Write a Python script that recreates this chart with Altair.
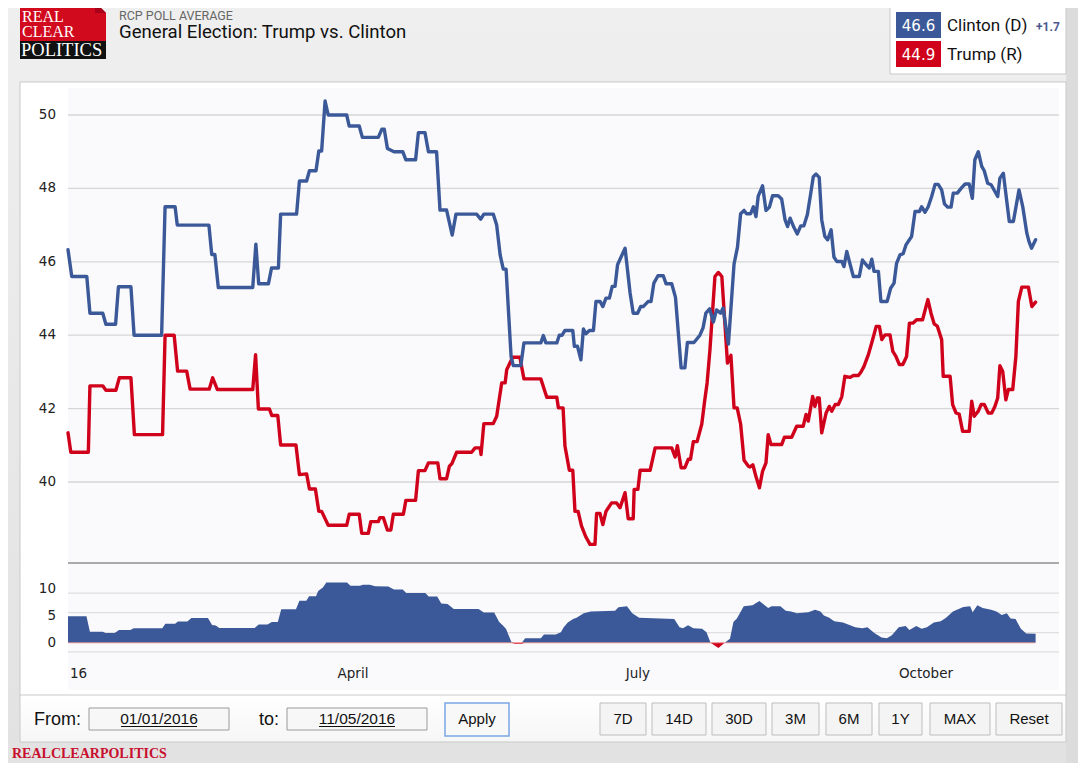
import altair as alt
import pandas as pd

# ---------------- data (day = days since 2016-01-01) ----------------
clinton = [
    (0, 46.33), (1.2, 45.6), (6, 45.6), (7, 44.6), (11.1, 44.6), (12.1, 44.3), (15.2, 44.3),
    (16.1, 45.32), (20.1, 45.32), (21.1, 44.0), (29.9, 44.0), (31, 47.5), (34.2, 47.5),
    (34.9, 47.0), (45, 47.0), (45.9, 46.2), (46.9, 46.2), (48, 45.3), (59, 45.3), (60, 46.48),
    (60.9, 45.4), (64, 45.4), (65, 45.83), (67.2, 45.83), (67.9, 47.3), (73, 47.3), (73.9, 48.2),
    (76.2, 48.2), (77.1, 48.48), (79.2, 48.48), (80.1, 49.02), (81, 49.02), (82.1, 50.38),
    (83.1, 50.0), (89, 50.0), (89.8, 49.7), (93, 49.7), (94, 49.39), (99.1, 49.39), (100.2, 49.61),
    (101, 49.61), (102, 49.09), (104.1, 49.0), (106.9, 49.0), (107.9, 48.78), (111, 48.78),
    (111.9, 49.52), (114, 49.52), (115.1, 49.0), (117.7, 49.0), (118.8, 47.41), (120.9, 47.41),
    (122.7, 46.73), (123.9, 47.3), (130.5, 47.3), (131.8, 47.16), (132.8, 47.3), (135.8, 47.3),
    (136.9, 47.0), (138, 46.19), (139, 45.8), (139.9, 45.8), (141.5, 43.42), (142.2, 43.17),
    (144.6, 43.17), (145.6, 43.79), (151, 43.79), (151.8, 43.99), (152.6, 43.79), (156.1, 43.79),
    (156.9, 44.0), (157.8, 44.0), (158.7, 44.13), (161.2, 44.13), (161.7, 43.7), (162.7, 43.7),
    (163.8, 43.33), (164.6, 44.17), (165.4, 44.04), (166.5, 44.13), (167.8, 44.13), (168.6, 44.92),
    (169.9, 44.92), (170.8, 44.78), (171.8, 45.01), (172.9, 45.01), (173.8, 45.33), (174.7, 45.33),
    (175.5, 45.92), (177.9, 46.37), (179.5, 45.15), (180.5, 44.6), (181.9, 44.6), (182.9, 44.78),
    (183.7, 44.78), (185.3, 44.92), (186.2, 44.92), (187.1, 45.42), (188.4, 45.62), (190.1, 45.62),
    (191, 45.4), (192.8, 45.4), (194, 45.03), (195.8, 43.11), (197, 43.11), (197.8, 43.8),
    (199.9, 43.8), (201.8, 44.0), (202.8, 44.2), (203.7, 44.6), (204.9, 44.72), (206.1, 44.36),
    (207.1, 44.69), (208.4, 44.6), (209.2, 44.74), (210.9, 43.76), (211.9, 44.97), (212.7, 45.94),
    (213.8, 46.4), (214.8, 47.31), (215.9, 47.4), (216.7, 47.31), (218, 47.31), (218.9, 47.5),
    (219.7, 47.23), (220.4, 47.78), (221.8, 48.07), (222.9, 47.4), (224, 47.49), (225, 47.8),
    (226.8, 47.8), (227.9, 47.71), (229, 47.14), (229.8, 46.96), (230.6, 47.19), (231.8, 46.94),
    (232.9, 46.76), (234, 46.98), (235, 46.98), (236.1, 47.28), (237.2, 47.87), (238, 48.32),
    (238.9, 48.39), (239.9, 48.3), (240.7, 47.14), (241.7, 46.69), (242.6, 46.6), (243.7, 46.87),
    (244.6, 46.13), (245.5, 46.01), (247.1, 46.01), (247.8, 45.87), (248.7, 46.28), (249.8, 45.92),
    (250.8, 45.6), (252.7, 45.6), (253.7, 46.05), (254.9, 45.92), (255.9, 45.83), (256.7, 46.07),
    (257.4, 45.74), (258.8, 45.74), (259.6, 44.92), (261.6, 44.92), (262.7, 45.28), (263.8, 45.42),
    (264.6, 45.96), (265.7, 46.19), (266.7, 46.22), (267.6, 46.46), (269.4, 46.69), (270.5, 47.37),
    (271.9, 47.37), (272.6, 47.5), (273.7, 47.35), (274.7, 47.5), (275.8, 47.78), (276.9, 48.11),
    (277.9, 48.11), (279, 47.96), (279.9, 47.58), (280.9, 47.49), (282, 47.49), (282.7, 47.87),
    (284, 47.87), (285.4, 48.02), (286.5, 48.12), (287.8, 48.12), (288.8, 47.73), (289.6, 48.78),
    (290.7, 49.0), (291.8, 48.6), (292.6, 48.48), (293.7, 48.14), (294.8, 48.1), (296.9, 47.78),
    (297.6, 48.28), (298.7, 48.41), (300.6, 47.1), (301.9, 47.1), (303.7, 47.96), (304.9, 47.5),
    (306.2, 46.78), (306.9, 46.55), (307.7, 46.37), (309, 46.6),
]

trump = [
    (0, 41.34), (0.9, 40.81), (6.5, 40.81), (7, 42.62), (11.1, 42.62), (12.1, 42.5), (15.3, 42.5),
    (16.4, 42.84), (20.1, 42.84), (21.2, 41.29), (30.2, 41.29), (31, 44.0), (33.9, 44.0),
    (35, 43.02), (37.9, 43.02), (39, 42.53), (45.1, 42.53), (46.2, 42.84), (47.7, 42.52),
    (59, 42.52), (59.9, 43.47), (60.8, 41.99), (64.3, 41.99), (65.1, 41.81), (67, 41.81),
    (67.9, 41.01), (72.8, 41.01), (73.9, 40.2), (76.2, 40.22), (77.1, 39.81), (79, 39.81),
    (80.1, 39.2), (81, 39.2), (83.1, 38.82), (89, 38.82), (89.8, 39.12), (93, 39.12), (93.8, 38.6),
    (95.9, 38.6), (96.7, 38.92), (99.1, 38.92), (99.6, 39.03), (100.7, 39.03), (102, 38.69),
    (103.1, 38.69), (103.9, 39.12), (107.1, 39.12), (107.9, 39.5), (111, 39.5), (111.9, 40.31),
    (114, 40.31), (115.1, 40.52), (118.1, 40.52), (118.8, 40.09), (120.9, 40.09), (121.8, 40.43),
    (122.6, 40.5), (124.1, 40.81), (128.9, 40.81), (130, 40.93), (131.6, 40.93), (131.9, 40.75),
    (132.8, 41.59), (135.8, 41.59), (136.9, 41.79), (138.5, 42.7), (139.6, 42.7), (140.1, 43.06),
    (142, 43.4), (144.3, 43.4), (145.6, 42.81), (151, 42.81), (152.9, 42.31), (156.1, 42.31),
    (156.6, 42.02), (158.1, 42.02), (158.7, 40.98), (160.1, 40.32), (161.2, 40.32), (161.9, 39.2),
    (162.9, 39.2), (164, 38.8), (165.4, 38.5), (166.7, 38.3), (168.3, 38.3), (168.8, 39.14),
    (169.9, 39.14), (170.8, 38.84), (171.8, 39.2), (173.6, 39.43), (175.2, 39.43), (176.3, 39.3),
    (177.9, 39.71), (178.9, 39.0), (180.5, 39.0), (180.8, 39.8), (182, 39.8), (182.7, 40.32),
    (185.9, 40.32), (187.5, 40.93), (192.8, 40.93), (193.9, 40.68), (194.6, 40.99), (195.8, 40.39),
    (197, 40.39), (198.1, 40.62), (198.8, 40.62), (199.7, 41.1), (200.9, 41.1), (202.4, 41.58),
    (203.3, 42.2), (204.1, 42.7), (205, 43.6), (206.6, 45.6), (207.7, 45.71), (208.8, 45.6),
    (210.6, 43.24), (211.7, 43.45), (212.7, 42.02), (213.7, 42.02), (214.8, 41.58), (215.9, 40.59),
    (217.3, 40.43), (217.8, 40.41), (218.7, 40.47), (219.7, 40.15), (220.8, 39.84), (221.8, 40.29),
    (222.9, 40.52), (223.6, 41.29), (224.5, 41.02), (227.9, 41.02), (228.8, 41.22), (231.1, 41.22),
    (232.7, 41.52), (234.8, 41.52), (235.7, 41.84), (236.4, 41.66), (237.8, 42.33), (238.5, 42.06),
    (239.3, 42.29), (239.9, 42.29), (240.7, 41.34), (242.1, 41.88), (243.1, 42.06), (243.9, 41.93),
    (245, 42.11), (246, 42.11), (247.1, 42.32), (248.1, 42.88), (249.8, 42.85), (250.8, 42.9),
    (252.4, 42.9), (253.2, 42.99), (254.2, 43.15), (255.6, 43.47), (256.7, 43.8), (258.1, 44.24),
    (259.1, 44.24), (259.9, 43.88), (260.9, 44.01), (262.5, 44.01), (263.4, 43.56), (264.4, 43.42),
    (265.5, 43.2), (266.6, 43.2), (267.8, 43.42), (268.7, 44.33), (269.9, 44.33), (271, 44.42),
    (272.9, 44.42), (274.6, 44.97), (275.6, 44.6), (276.6, 44.31), (277.6, 44.25), (279, 43.88),
    (279.5, 42.88), (281.7, 42.88), (282.5, 42.11), (283.6, 41.88), (284.6, 41.85), (285.7, 41.38),
    (287.8, 41.38), (288.6, 42.2), (289.4, 41.79), (290.7, 41.93), (291.6, 42.11), (292.6, 42.11),
    (293.9, 41.88), (295, 41.88), (296, 42.06), (296.9, 42.29), (297.6, 43.17), (298.5, 43.01),
    (299.5, 42.24), (300.3, 42.52), (301.7, 42.52), (302.7, 43.42), (303.5, 44.92), (304.6, 45.31),
    (306.7, 45.31), (307.8, 44.78), (309, 44.9),
]

spread = [
    (0, 4.97), (5.9, 4.97), (7, 2.06), (11.1, 2.06), (12, 1.81), (14.9, 1.81), (16.3, 2.39),
    (19.9, 2.39), (21, 2.71), (30.1, 2.71), (31.1, 3.55), (34.2, 3.55), (35.1, 4.0), (38.1, 4.0),
    (39.4, 4.65), (44.7, 4.65), (46, 3.35), (47.2, 3.23), (48.3, 2.77), (59.6, 2.77), (60.9, 3.42),
    (63.7, 3.42), (65.1, 3.87), (67, 3.87), (68.1, 6.26), (72.8, 6.26), (73.9, 7.87), (76.1, 7.87),
    (77, 8.71), (79.2, 8.71), (79.9, 9.68), (81.4, 10.32), (82.5, 11.29), (89.1, 11.29),
    (90.2, 10.65), (93.2, 10.65), (94.2, 10.84), (96.4, 10.84), (98.1, 10.58), (102.3, 10.52),
    (104.1, 9.94), (106.9, 9.94), (108, 9.29), (114.1, 9.29), (115.2, 8.65), (117.9, 8.65),
    (119.2, 7.35), (121.2, 7.23), (123.2, 6.32), (131.1, 6.32), (132.8, 5.68), (136.1, 5.68),
    (137.7, 3.87), (138.9, 3.23), (139.9, 2.58), (141.6, 0.13), (142.7, -0.19), (144.9, -0.19),
    (146, 0.84), (151, 0.84), (152, 1.55), (155.7, 1.56), (157.4, 1.95), (158.3, 2.93),
    (159.6, 3.78), (161.3, 4.43), (162.4, 4.69), (164.7, 5.54), (166.9, 5.86), (174.7, 5.99),
    (175.8, 6.65), (178.5, 6.84), (180.2, 5.54), (182.4, 4.69), (193.6, 4.43), (195.3, 2.93),
    (196.4, 2.74), (198, 3.26), (199.7, 2.74), (202.5, 2.61), (203.9, 1.95), (205.2, 0),
    (207.7, -0.98), (209.7, 0), (211.4, 0.78), (212.5, 3.91), (213.6, 4.56), (215.8, 6.84),
    (218.6, 7.04), (220.8, 7.82), (221.9, 7.3), (223.6, 6.51), (224.7, 6.84), (227.5, 6.84),
    (229.2, 5.99), (230.9, 5.86), (232.8, 5.54), (236.4, 5.73), (238.6, 6.19), (240.3, 5.86),
    (241.4, 5.08), (243.1, 4.69), (244.7, 4.04), (247.5, 3.78), (251.4, 2.93), (253.7, 2.74),
    (255.3, 2.93), (257.5, 1.82), (259.8, 0.98), (261.5, 0.85), (263.1, 1.43), (265.3, 2.93),
    (267.5, 3.13), (268.7, 2.41), (270.9, 3.13), (272.6, 2.61), (274.3, 2.93), (276.5, 3.78),
    (278.7, 4.04), (280.4, 4.69), (282.6, 5.86), (285.9, 6.71), (288.1, 6.84), (288.9, 5.73),
    (290.4, 7.04), (292.1, 6.51), (294.8, 6.19), (296.5, 5.86), (298.2, 5.21), (299.8, 5.54),
    (301, 4.56), (302.6, 4.43), (304.3, 2.61), (306, 1.76), (309, 1.69),
]

main_ticks = [40, 42, 44, 46, 48, 50]
spread_ticks = [10, 5, 0]
spread_grid = [9.3, 5.65, 1.9, -1.7]
month_days = [91, 182, 274]
month_labels = ["April", "July", "October"]
year_days = [0]
year_labels = ["16"]
candidates = ["Clinton (D)", "Trump (R)"]
latest = [46.6, 44.9]
lead = "+1.7"
range_buttons = ["7D", "14D", "30D", "3M", "6M", "1Y", "MAX", "Reset"]
date_from = "01/01/2016"
date_to = "11/05/2016"

# ---------------- styling / layout ----------------
BLUE = "#3b5998"
RED = "#d0021b"
M = 8  # page margin of the HTML body


def P(v):
    return v - M


X = alt.Scale(domain=[0, 274], range=[P(68), P(926)], nice=False, zero=False)
YM = alt.Scale(domain=[40, 50], range=[P(482), P(115)], nice=False, zero=False)
YS = alt.Scale(domain=[0, 10], range=[P(642.8), P(589.3)], nice=False, zero=False)

one = pd.DataFrame({"k": [0]})


def box(x1, y1, x2, y2, **kw):
    return alt.Chart(one).mark_rect(**kw).encode(
        x=alt.value(P(x1)), x2=alt.value(P(x2)), y=alt.value(P(y1)), y2=alt.value(P(y2)))


def label(s, x, y, **kw):
    return alt.Chart(one).mark_text(text=s, **kw).encode(x=alt.value(P(x)), y=alt.value(P(y)))


def hline(x1, x2, y, **kw):
    return alt.Chart(one).mark_rule(**kw).encode(
        x=alt.value(P(x1)), x2=alt.value(P(x2)), y=alt.value(P(y)))


def tri(cx, cy, path, size, color):
    return alt.Chart(one).mark_point(shape=path, size=size, filled=True, color=color,
                                     opacity=1, strokeWidth=0).encode(
        x=alt.value(P(cx)), y=alt.value(P(cy)))


layers = []

# page frame background
grad = alt.LinearGradient(gradient="linear", x1=0, x2=0, y1=0, y2=1,
                          stops=[alt.GradientStop(color="#efefef", offset=0),
                                 alt.GradientStop(color="#e2e2e2", offset=1)])
layers.append(box(8, 8, 1078, 763, color=grad))
layers.append(box(1066, 8, 1078, 763, color="#dcdcdc"))

# chart panel
layers.append(box(20, 82, 1066, 696, color="white", stroke="#c9c9c9", strokeWidth=1))
layers.append(box(68, 88, 1059, 690, color="#fafafd"))

# main grid
layers.append(alt.Chart(pd.DataFrame({"v": main_ticks})).mark_rule(
    color="#d6d6d6", strokeWidth=1.3).encode(
    y=alt.Y("v:Q", scale=YM, axis=None), x=alt.value(P(68)), x2=alt.value(P(1059))))

# spread grid
layers.append(alt.Chart(pd.DataFrame({"v": spread_grid})).mark_rule(
    color="#dedede", strokeWidth=1.3).encode(
    y=alt.Y("v:Q", scale=YS, axis=None), x=alt.value(P(68)), x2=alt.value(P(1059))))

# spread areas
sdf = pd.DataFrame(spread, columns=["day", "value"])
layers.append(alt.Chart(sdf).transform_calculate(pos="max(datum.value, 0)").mark_area(
    color=BLUE, opacity=1).encode(
    x=alt.X("day:Q", scale=X, axis=None),
    y=alt.Y("pos:Q", scale=YS, axis=None), y2=alt.datum(0)))
layers.append(alt.Chart(sdf).transform_calculate(neg="min(datum.value, 0)").mark_area(
    color=RED, opacity=1).encode(
    x=alt.X("day:Q", scale=X, axis=None),
    y=alt.Y("neg:Q", scale=YS, axis=None), y2=alt.datum(0)))
layers.append(alt.Chart(pd.DataFrame({"v": [0]})).mark_rule(
    color="#f08a8a", strokeWidth=1, opacity=0.8).encode(
    y=alt.Y("v:Q", scale=YS, axis=None), x=alt.value(P(68)), x2=alt.value(P(1035))))

# separator between main plot and spread panel
layers.append(hline(68, 1059, 563, color="#5a5a5a", strokeWidth=1.2))

# series lines
cdf = pd.DataFrame(clinton, columns=["day", "value"])
tdf = pd.DataFrame(trump, columns=["day", "value"])
for df, col in ((tdf, RED), (cdf, BLUE)):
    layers.append(alt.Chart(df).mark_line(
        color=col, strokeWidth=3.4, strokeJoin="round", strokeCap="round").encode(
        x=alt.X("day:Q", scale=X, axis=None),
        y=alt.Y("value:Q", scale=YM, axis=None)))

# y labels
lab_style = dict(font="DejaVu Sans", fontSize=13.5, color="#222222")
layers.append(alt.Chart(pd.DataFrame({"v": main_ticks})).mark_text(
    align="right", baseline="middle", **lab_style).encode(
    y=alt.Y("v:Q", scale=YM, axis=None), x=alt.value(P(56)), text="v:Q"))
layers.append(alt.Chart(pd.DataFrame({"v": spread_ticks})).mark_text(
    align="right", baseline="middle", **lab_style).encode(
    y=alt.Y("v:Q", scale=YS, axis=None), x=alt.value(P(56)), text="v:Q"))

# x labels
layers.append(alt.Chart(pd.DataFrame({"d": month_days, "t": month_labels})).mark_text(
    align="center", baseline="alphabetic", **lab_style).encode(
    x=alt.X("d:Q", scale=X, axis=None), y=alt.value(P(678)), text="t:N"))
layers.append(alt.Chart(pd.DataFrame({"d": year_days, "t": year_labels})).mark_text(
    align="left", baseline="alphabetic", dx=2, **lab_style).encode(
    x=alt.X("d:Q", scale=X, axis=None), y=alt.value(P(678)), text="t:N"))

# ---------------- header ----------------
layers.append(box(20, 2, 106, 41, color="#d20a1e"))
layers.append(box(20, 41, 106, 59, color="#111111"))
layers.append(tri(100.5, 7.5, "M-1,-1L1,-1L1,1Z", 121, "#eeeeee"))
layers.append(tri(100.5, 7.5, "M-1,-1L-1,1L1,1Z", 121, "#a8001a"))
logo = dict(font="Liberation Serif", color="white", align="left", baseline="alphabetic")
layers.append(label(["REAL", "CLEAR"], 22, 21.5, fontSize=16, lineHeight=15.5, **logo))
layers.append(label("POLITICS", 21, 56, fontSize=18.5, **logo))

layers.append(label("RCP POLL AVERAGE", 119, 20, font="Roboto", fontSize=12.5, color="#666666",
                    align="left", baseline="alphabetic"))
layers.append(label("General Election: Trump vs. Clinton", 119, 38, font="Roboto",
                    fontSize=18.6, color="#111111", align="left", baseline="alphabetic"))

# legend box
layers.append(box(890, 6, 1066, 74, color="white", stroke="#c9c9c9", strokeWidth=1))
badge_y = [(12, 38), (41, 67)]
for (y1, y2), col, name, val in zip(badge_y, (BLUE, RED), candidates, latest):
    layers.append(box(896, y1, 941, y2, color=col))
    layers.append(label(f"{val:.1f}", 918.5, y2 - 7.5, font="DejaVu Sans", fontSize=15,
                        color="white", align="center", baseline="alphabetic"))
    layers.append(label(name, 947, y2 - 7, font="Roboto", fontSize=17, color="#111111",
                        align="left", baseline="alphabetic"))
layers.append(label(lead, 1036, 31, font="Roboto", fontSize=12, fontWeight="bold",
                    color="#4d5890", align="left", baseline="alphabetic"))

# ---------------- controls ----------------
grad2 = alt.LinearGradient(gradient="linear", x1=0, x2=0, y1=0, y2=1,
                           stops=[alt.GradientStop(color="#ffffff", offset=0),
                                  alt.GradientStop(color="#f6f6f6", offset=1)])
layers.append(box(20, 695, 1066, 742, color=grad2, stroke="#c9c9c9", strokeWidth=1))
ctl = dict(font="Liberation Sans", color="#111111", baseline="alphabetic")
layers.append(label("From:", 34, 725, fontSize=18, align="left", **ctl))
layers.append(label("to:", 259, 725, fontSize=18, align="left", **ctl))
for (x1, x2), txt in (((89, 229), date_from), ((287, 427), date_to)):
    layers.append(box(x1, 708, x2, 730, color="#f7f7f7", stroke="#9a9a9a", strokeWidth=1))
    cx = (x1 + x2) / 2
    layers.append(label(txt, cx, 724, fontSize=15.5, align="center", **ctl))
    layers.append(hline(cx - 38, cx + 38, 726.5, color="#111111", strokeWidth=1))
layers.append(box(445, 703, 509, 736, color="#f8f8f8", stroke="#79a6e4", strokeWidth=1.5))
layers.append(label("Apply", 477, 724, fontSize=15, align="center", **ctl))
btn_x = [(600, 646), (652, 706), (712, 766), (772, 819), (826, 872), (879, 922), (930, 990),
         (996, 1062)]
for (x1, x2), txt in zip(btn_x, range_buttons):
    layers.append(box(x1, 703, x2, 735, color="#f4f4f4", stroke="#bdbdbd", strokeWidth=1))
    layers.append(label(txt, (x1 + x2) / 2, 724, fontSize=15, align="center", **ctl))

layers.append(label("REALCLEARPOLITICS", 12, 758, font="Liberation Serif", fontSize=14,
                    fontWeight="bold", color="#c8102e", align="left", baseline="alphabetic"))

chart = alt.layer(*layers).resolve_scale(y="independent").properties(
    width=1070, height=755, padding=0,
    autosize=alt.AutoSizeParams(type="none"),
    background="#ffffff",
).configure_view(strokeWidth=0)

chart.save("out.html", embed_options={"renderer": "svg", "actions": False})
